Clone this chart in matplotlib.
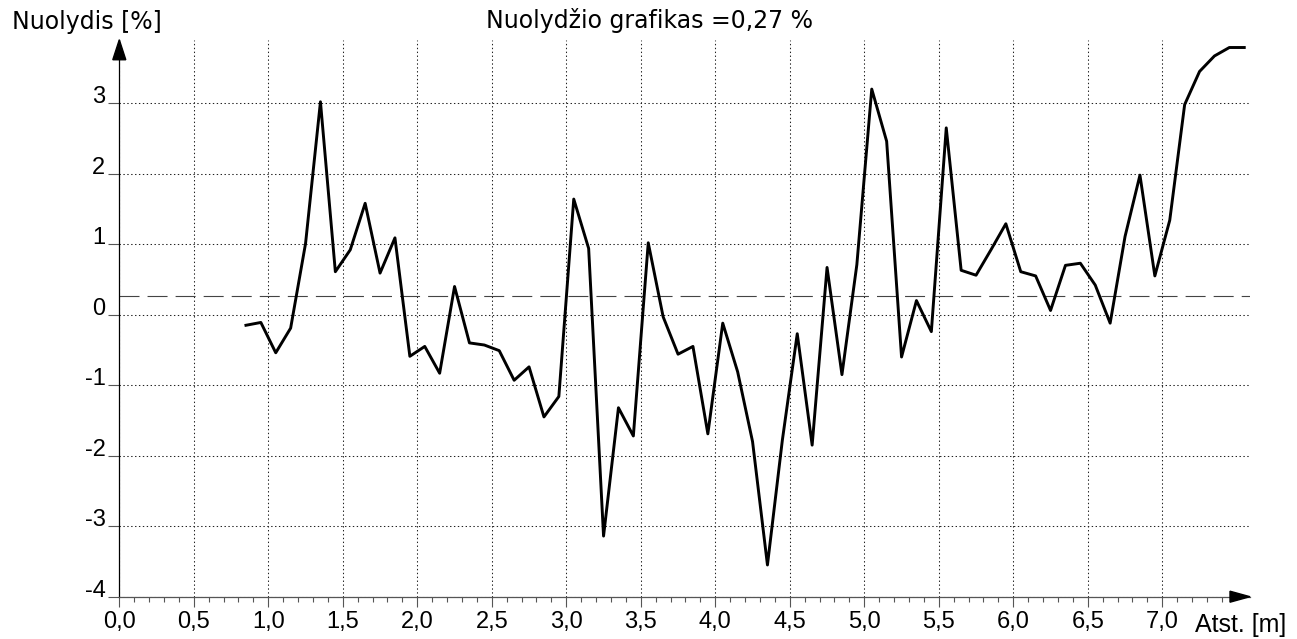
import matplotlib
matplotlib.use("Agg")
import matplotlib.pyplot as plt
from matplotlib.patches import Polygon
from matplotlib.ticker import FixedLocator

# ---- data ----
distance_m = [0.85, 0.95, 1.05, 1.15, 1.25, 1.35, 1.45, 1.55, 1.65, 1.75,
              1.85, 1.95, 2.05, 2.15, 2.25, 2.35, 2.45, 2.55, 2.65, 2.75,
              2.85, 2.95, 3.05, 3.15, 3.25, 3.35, 3.45, 3.55, 3.65, 3.75,
              3.85, 3.95, 4.05, 4.15, 4.25, 4.35, 4.45, 4.55, 4.65, 4.75,
              4.85, 4.95, 5.05, 5.15, 5.25, 5.35, 5.45, 5.55, 5.65, 5.75,
              5.85, 5.95, 6.05, 6.15, 6.25, 6.35, 6.45, 6.55, 6.65, 6.75,
              6.85, 6.95, 7.05, 7.15, 7.25, 7.35, 7.45, 7.55]
slope_pct = [-0.15, -0.11, -0.54, -0.19, 1.01, 3.02, 0.61, 0.92, 1.58, 0.59,
             1.09, -0.59, -0.45, -0.83, 0.40, -0.40, -0.43, -0.51, -0.93, -0.74,
             -1.45, -1.16, 1.64, 0.94, -3.14, -1.32, -1.72, 1.02, -0.03, -0.56,
             -0.45, -1.69, -0.12, -0.81, -1.80, -3.55, -1.78, -0.27, -1.85, 0.67,
             -0.85, 0.71, 3.20, 2.46, -0.60, 0.20, -0.24, 2.65, 0.63, 0.56,
             0.92, 1.29, 0.61, 0.55, 0.06, 0.70, 0.73, 0.42, -0.12, 1.11,
             1.98, 0.55, 1.34, 2.98, 3.45, 3.67, 3.79, 3.79]
mean_slope = 0.27

x_ticks = [0.0, 0.5, 1.0, 1.5, 2.0, 2.5, 3.0, 3.5, 4.0, 4.5, 5.0, 5.5, 6.0, 6.5, 7.0]
x_labels = ["0,0", "0,5", "1,0", "1,5", "2,0", "2,5", "3,0", "3,5", "4,0",
            "4,5", "5,0", "5,5", "6,0", "6,5", "7,0"]
x_minor = [0.1, 0.2, 0.3, 0.4, 0.6, 0.7, 0.8, 0.9, 1.1, 1.2, 1.3, 1.4, 1.6, 1.7,
           1.8, 1.9, 2.1, 2.2, 2.3, 2.4, 2.6, 2.7, 2.8, 2.9, 3.1, 3.2, 3.3, 3.4,
           3.6, 3.7, 3.8, 3.9, 4.1, 4.2, 4.3, 4.4, 4.6, 4.7, 4.8, 4.9, 5.1, 5.2,
           5.3, 5.4, 5.6, 5.7, 5.8, 5.9, 6.1, 6.2, 6.3, 6.4, 6.6, 6.7, 6.8, 6.9,
           7.1, 7.2, 7.3, 7.4]
y_ticks = [-4, -3, -2, -1, 0, 1, 2, 3]
y_labels = ["-4", "-3", "-2", "-1", "0", "1", "2", "3"]

title_text = "Nuolydžio grafikas =0,27 %"
y_title = "Nuolydis [%]"
x_title = "Atst. [m]"

# ---- layout ----
plt.rcParams["lines.scale_dashes"] = False
plt.rcParams["font.family"] = ["DejaVu Sans"]

W, H = 1297, 639
fig = plt.figure(figsize=(W / 100, H / 100), dpi=100)
fig.patch.set_facecolor("white")

x0px = 119.3
ppx = 149.0
ybot_px = 596.7
ppy = 70.5
right_px = 1250.0
ymin, ymax = -4.0, 3.9
xmax = (right_px - x0px) / ppx
axw = right_px - x0px
axh = (ymax - ymin) * ppy

ax = fig.add_axes([x0px / W, (H - ybot_px) / H, axw / W, axh / H])
ax.set_xlim(0, xmax)
ax.set_ylim(ymin, ymax)
ax.set_axisbelow(True)

for s in ("top", "right"):
    ax.spines[s].set_visible(False)
ax.spines["left"].set_color("black")
ax.spines["left"].set_linewidth(0.9)
ax.spines["bottom"].set_color("#555555")
ax.spines["bottom"].set_linewidth(0.9)

tick_font = ["Liberation Sans", "DejaVu Sans"]
ax.xaxis.set_major_locator(FixedLocator(x_ticks))
ax.xaxis.set_minor_locator(FixedLocator(x_minor))
ax.set_xticks(x_ticks, x_labels, family=tick_font, fontsize=17)
ax.set_yticks(y_ticks, y_labels, family=tick_font, fontsize=17, va="baseline")
ax.tick_params(axis="x", which="major", direction="out", length=7.5, width=0.8,
               color="#555555", pad=3)
ax.tick_params(axis="x", which="minor", direction="out", length=3.6, width=0.8,
               color="#555555")
ax.tick_params(axis="y", which="major", direction="out", length=8, width=0.8,
               color="#555555", pad=2)

ax.grid(True, which="major", color="#222222", linewidth=0.75,
        linestyle=(0, (1.0, 1.8)))

ax.axhline(mean_slope, color="#444444", linewidth=0.8,
           dashes=(14.4, 5.8), zorder=2)
ax.plot(distance_m, slope_pct, color="black", linewidth=2.1, zorder=3,
        clip_on=False)

# axis arrows
ax.add_patch(Polygon([(0, 1), (-6.5 / axw, 1 - 20 / axh), (6.5 / axw, 1 - 20 / axh)],
                     closed=True, transform=ax.transAxes, color="black",
                     clip_on=False, zorder=5))
ax.add_patch(Polygon([(1, 0), (1 - 20 / axw, 5.5 / axh), (1 - 20 / axw, -5.5 / axh)],
                     closed=True, transform=ax.transAxes, color="black",
                     clip_on=False, zorder=5))

fig.text(12 / W, 1 - 10 / H, y_title, ha="left", va="top", fontsize=17)
fig.text(649 / W, 1 - 8 / H, title_text, ha="center", va="top", fontsize=17)
fig.text(1195 / W, (H - 632) / H, x_title, ha="left", va="baseline",
         fontsize=18, family=["Liberation Sans", "DejaVu Sans"])

fig.savefig("out.png", dpi=100, facecolor="white")
